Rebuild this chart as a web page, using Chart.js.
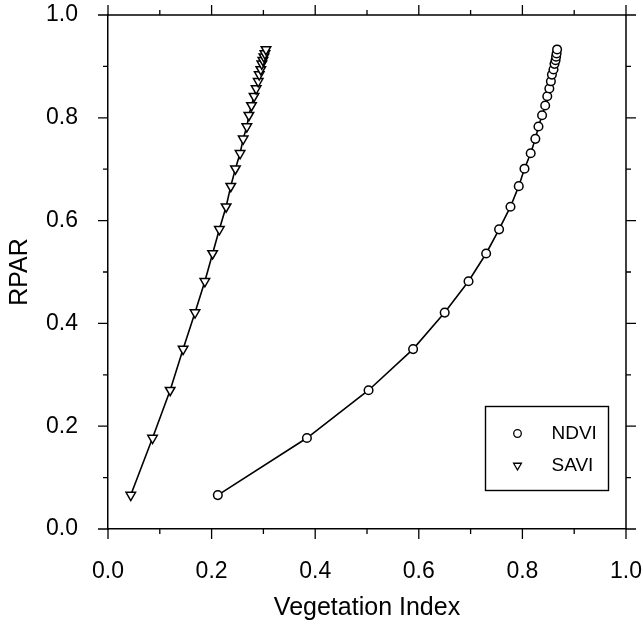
<!DOCTYPE html>
<html>
<head>
<meta charset="utf-8">
<script src="https://cdn.jsdelivr.net/npm/chart.js@4.4.1/dist/chart.umd.min.js"></script>
<style>
  html, body { margin: 0; padding: 0; background: #fff; }
  #wrap { width: 643px; height: 624px; }
</style>
</head>
<body>
<div id="wrap"><canvas id="c" width="643" height="624"></canvas></div>
<script>
// ---- data ----
const rpar = [0.066, 0.177, 0.270, 0.350, 0.421, 0.482, 0.536, 0.583, 0.627, 0.667,
              0.701, 0.731, 0.759, 0.783, 0.805, 0.824, 0.842, 0.857, 0.871, 0.884,
              0.894, 0.905, 0.912, 0.919, 0.925, 0.933];
const ndvi = [0.212, 0.384, 0.503, 0.589, 0.650, 0.696, 0.730, 0.755, 0.777, 0.793,
              0.804, 0.816, 0.825, 0.831, 0.838, 0.844, 0.848, 0.852, 0.855, 0.857,
              0.860, 0.862, 0.864, 0.865, 0.866, 0.867];
const savi = [0.044, 0.086, 0.120, 0.145, 0.168, 0.187, 0.202, 0.215, 0.228, 0.237,
              0.246, 0.255, 0.261, 0.268, 0.272, 0.277, 0.282, 0.286, 0.290, 0.292,
              0.295, 0.297, 0.299, 0.301, 0.303, 0.305];
const seriesNames = ["NDVI", "SAVI"];
const axisTicks = [0.0, 0.2, 0.4, 0.6, 0.8, 1.0];
const minorTicks = [0.0, 0.1, 0.2, 0.3, 0.4, 0.5, 0.6, 0.7, 0.8, 0.9, 1.0];
const xTitle = "Vegetation Index";
const yTitle = "RPAR";

const FONT = "'Liberation Sans', Arial, Helvetica, sans-serif";
const INK = "#000";

const toPts = (xs, ys) => xs.map((x, i) => ({ x: x, y: ys[i] }));
const noPad = s => { s.paddingLeft = 0; s.paddingRight = 0; s.paddingTop = 0; s.paddingBottom = 0; };

// frame + outward major/minor ticks on all four sides, legend box
const framePlugin = {
  id: 'frame',
  afterDraw(chart) {
    const { ctx, chartArea: a, scales: { x, y } } = chart;
    ctx.save();
    ctx.strokeStyle = INK;
    ctx.lineWidth = 1.5;
    ctx.beginPath();
    ctx.moveTo(a.left, a.top); ctx.lineTo(a.right, a.top);
    ctx.moveTo(a.right, a.top); ctx.lineTo(a.right, a.bottom);
    ctx.stroke();
    ctx.lineWidth = 1.3;
    ctx.beginPath();
    minorTicks.forEach((v, i) => {
      const len = (i % 2 === 0) ? 10 : 5;
      const px = x.getPixelForValue(v);
      const py = y.getPixelForValue(v);
      ctx.moveTo(px, a.bottom); ctx.lineTo(px, a.bottom + len);
      ctx.moveTo(px, a.top); ctx.lineTo(px, a.top - len);
      ctx.moveTo(a.left, py); ctx.lineTo(a.left - len, py);
      ctx.moveTo(a.right, py); ctx.lineTo(a.right + len, py);
    });
    ctx.stroke();

    // legend box inside the plot area (bottom-right)
    const bw = 123, bh = 84;
    const bx = Math.round(a.right - 18 - bw) + 0.5;
    const by = Math.round(a.bottom - 39 - bh) + 0.5;
    ctx.fillStyle = '#fff';
    ctx.fillRect(bx, by, bw, bh);
    ctx.lineWidth = 1.4;
    ctx.strokeRect(bx, by, bw, bh);
    const mx = bx + 32;
    const rows = [by + 27, by + 59];
    ctx.lineWidth = 1.3;
    ctx.beginPath();
    ctx.arc(mx, rows[0], 3.8, 0, Math.PI * 2);
    ctx.stroke();
    const r = 4.5;
    ctx.beginPath();
    ctx.moveTo(mx - r * 0.87, rows[1] - r * 0.5);
    ctx.lineTo(mx + r * 0.87, rows[1] - r * 0.5);
    ctx.lineTo(mx, rows[1] + r);
    ctx.closePath();
    ctx.stroke();
    ctx.fillStyle = INK;
    ctx.font = "19px " + FONT;
    ctx.textAlign = 'left';
    ctx.textBaseline = 'middle';
    ctx.fillText(seriesNames[0], bx + 66, rows[0]);
    ctx.fillText(seriesNames[1], bx + 66, rows[1]);
    ctx.restore();
  }
};

new Chart(document.getElementById('c'), {
  type: 'scatter',
  data: {
    datasets: [
      {
        label: seriesNames[0],
        data: toPts(ndvi, rpar),
        showLine: true,
        borderColor: INK,
        borderWidth: 1.6,
        pointStyle: 'circle',
        pointRadius: 4.3,
        pointBorderWidth: 1.5,
        pointBackgroundColor: '#fff',
        pointBorderColor: INK,
        tension: 0
      },
      {
        label: seriesNames[1],
        data: toPts(savi, rpar),
        showLine: true,
        borderColor: INK,
        borderWidth: 1.6,
        pointStyle: 'triangle',
        pointRotation: 180,
        pointRadius: 5.5,
        pointBorderWidth: 1.5,
        pointBackgroundColor: '#fff',
        pointBorderColor: INK,
        tension: 0
      }
    ]
  },
  options: {
    responsive: false,
    animation: false,
    devicePixelRatio: 1,
    layout: { padding: { top: 15, right: 17, left: 0, bottom: 0 } },
    plugins: {
      legend: { display: false },
      tooltip: { enabled: false }
    },
    scales: {
      x: {
        type: 'linear',
        min: 0, max: 1,
        afterBuildTicks: s => { s.ticks = axisTicks.map(v => ({ value: v })); },
        afterFit: s => { s.height = 95; noPad(s); },
        grid: { display: false },
        border: { display: true, color: INK, width: 1.5 },
        ticks: {
          color: INK,
          padding: 21,
          maxRotation: 0,
          font: { family: FONT, size: 23 },
          callback: v => v.toFixed(1)
        },
        title: {
          display: true,
          text: xTitle,
          color: INK,
          font: { family: FONT, size: 25 },
          padding: { top: 0, bottom: 1 }
        }
      },
      y: {
        type: 'linear',
        min: 0, max: 1,
        afterBuildTicks: s => { s.ticks = axisTicks.map(v => ({ value: v })); },
        afterFit: s => { s.width = 108; noPad(s); },
        grid: { display: false },
        border: { display: true, color: INK, width: 1.5 },
        ticks: {
          color: INK,
          padding: 22,
          font: { family: FONT, size: 23 },
          callback: v => v.toFixed(1)
        },
        title: {
          display: true,
          text: yTitle,
          color: INK,
          font: { family: FONT, size: 25 },
          padding: { top: 5, bottom: 0 }
        }
      }
    }
  },
  plugins: [framePlugin]
});
</script>
</body>
</html>
